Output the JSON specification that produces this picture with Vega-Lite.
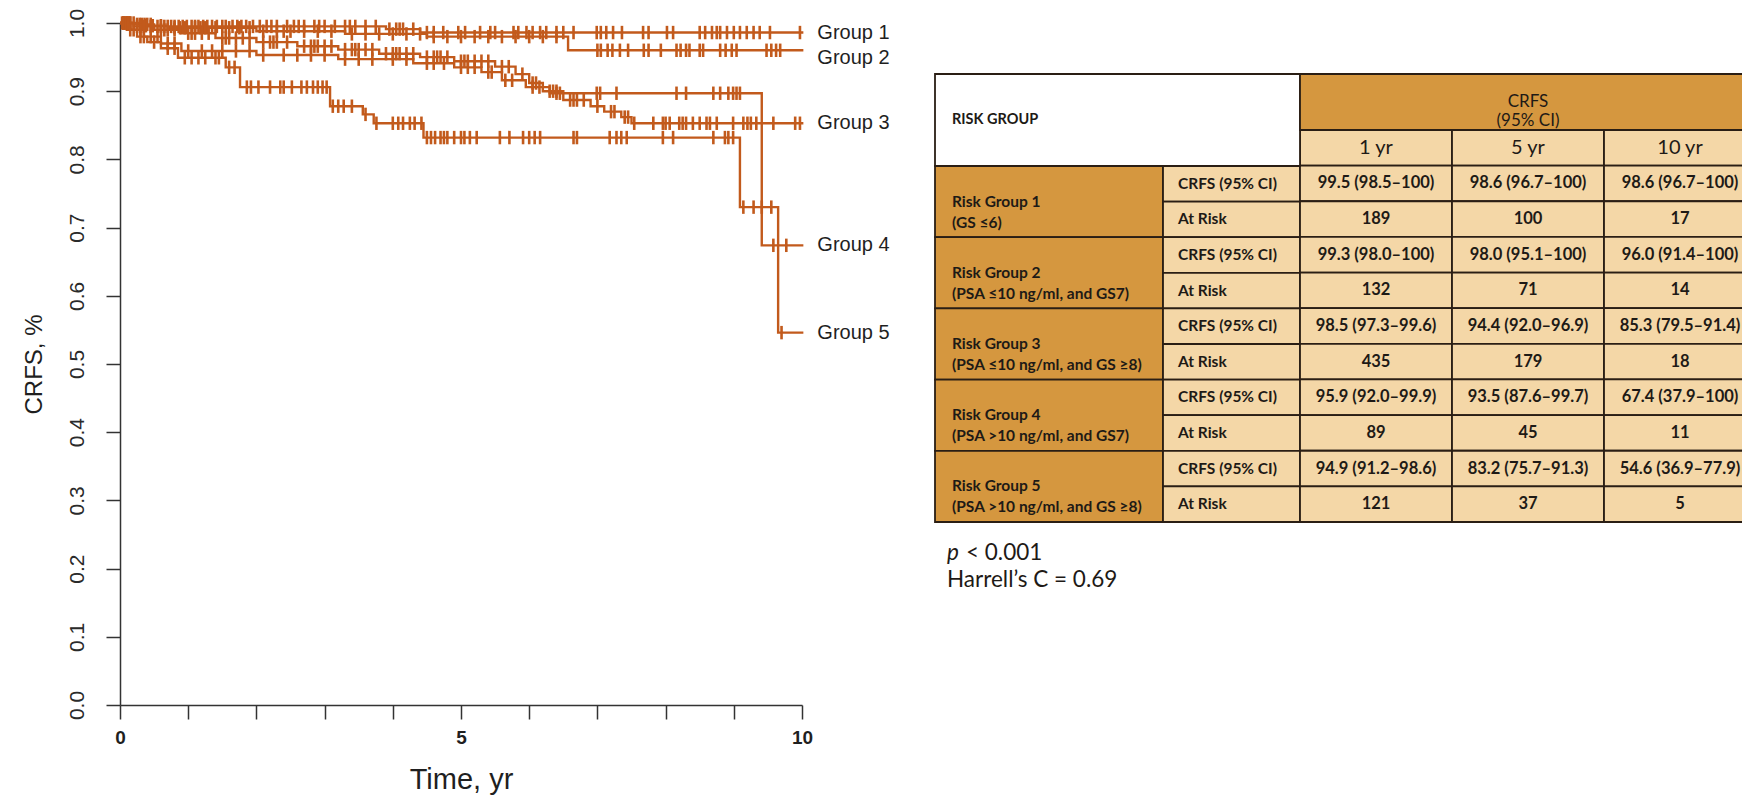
{
  "$schema": "https://vega.github.io/schema/vega-lite/v6.json",
  "width": 682,
  "height": 682,
  "autosize": {"type": "none"},
  "padding": {"left": 120, "top": 23, "right": 940, "bottom": 90},
  "background": "white",
  "config": {"view": {"stroke": null}},
  "datasets": {
    "km_steps": [
      {"g": "Group 1", "t": 0, "s": 1}, {"g": "Group 1", "t": 0.2, "s": 0.998}, {"g": "Group 1", "t": 0.5, "s": 0.995}, {"g": "Group 1", "t": 3.9, "s": 0.991}, {"g": "Group 1", "t": 4.4, "s": 0.986}, {"g": "Group 1", "t": 10.02, "s": 0.986},
      {"g": "Group 2", "t": 0, "s": 1}, {"g": "Group 2", "t": 0.3, "s": 0.996}, {"g": "Group 2", "t": 0.7, "s": 0.993}, {"g": "Group 2", "t": 2.0, "s": 0.988}, {"g": "Group 2", "t": 3.3, "s": 0.984}, {"g": "Group 2", "t": 4.5, "s": 0.98}, {"g": "Group 2", "t": 6.57, "s": 0.96}, {"g": "Group 2", "t": 10.02, "s": 0.96},
      {"g": "Group 3", "t": 0, "s": 1}, {"g": "Group 3", "t": 0.2, "s": 0.995}, {"g": "Group 3", "t": 0.5, "s": 0.99}, {"g": "Group 3", "t": 0.9, "s": 0.985}, {"g": "Group 3", "t": 1.4, "s": 0.978}, {"g": "Group 3", "t": 2.0, "s": 0.972}, {"g": "Group 3", "t": 2.6, "s": 0.966}, {"g": "Group 3", "t": 3.2, "s": 0.961}, {"g": "Group 3", "t": 3.8, "s": 0.955}, {"g": "Group 3", "t": 4.4, "s": 0.95}, {"g": "Group 3", "t": 4.9, "s": 0.944}, {"g": "Group 3", "t": 5.5, "s": 0.936}, {"g": "Group 3", "t": 5.8, "s": 0.925}, {"g": "Group 3", "t": 6.0, "s": 0.912}, {"g": "Group 3", "t": 6.2, "s": 0.9}, {"g": "Group 3", "t": 6.5, "s": 0.887}, {"g": "Group 3", "t": 6.9, "s": 0.878}, {"g": "Group 3", "t": 7.1, "s": 0.87}, {"g": "Group 3", "t": 7.35, "s": 0.862}, {"g": "Group 3", "t": 7.5, "s": 0.853}, {"g": "Group 3", "t": 10.02, "s": 0.853},
      {"g": "Group 4", "t": 0, "s": 1}, {"g": "Group 4", "t": 0.15, "s": 0.99}, {"g": "Group 4", "t": 0.35, "s": 0.98}, {"g": "Group 4", "t": 0.6, "s": 0.97}, {"g": "Group 4", "t": 0.9, "s": 0.959}, {"g": "Group 4", "t": 2.0, "s": 0.953}, {"g": "Group 4", "t": 3.2, "s": 0.947}, {"g": "Group 4", "t": 4.3, "s": 0.941}, {"g": "Group 4", "t": 4.9, "s": 0.935}, {"g": "Group 4", "t": 5.3, "s": 0.928}, {"g": "Group 4", "t": 5.6, "s": 0.916}, {"g": "Group 4", "t": 5.95, "s": 0.906}, {"g": "Group 4", "t": 6.3, "s": 0.897}, {"g": "Group 4", "t": 9.41, "s": 0.674}, {"g": "Group 4", "t": 10.02, "s": 0.674},
      {"g": "Group 5", "t": 0, "s": 1}, {"g": "Group 5", "t": 0.1, "s": 0.99}, {"g": "Group 5", "t": 0.25, "s": 0.98}, {"g": "Group 5", "t": 0.4, "s": 0.972}, {"g": "Group 5", "t": 0.6, "s": 0.963}, {"g": "Group 5", "t": 0.85, "s": 0.949}, {"g": "Group 5", "t": 1.55, "s": 0.935}, {"g": "Group 5", "t": 1.76, "s": 0.906}, {"g": "Group 5", "t": 3.08, "s": 0.878}, {"g": "Group 5", "t": 3.56, "s": 0.866}, {"g": "Group 5", "t": 3.72, "s": 0.853}, {"g": "Group 5", "t": 4.45, "s": 0.832}, {"g": "Group 5", "t": 9.09, "s": 0.73}, {"g": "Group 5", "t": 9.65, "s": 0.546}, {"g": "Group 5", "t": 10.02, "s": 0.546}
    ],
    "km_censor": [
      {"g": "Group 1", "t": 0.03, "s": 1}, {"g": "Group 1", "t": 0.05, "s": 1}, {"g": "Group 1", "t": 0.08, "s": 1}, {"g": "Group 1", "t": 0.1, "s": 1}, {"g": "Group 1", "t": 0.13, "s": 1}, {"g": "Group 1", "t": 0.15, "s": 1}, {"g": "Group 1", "t": 0.25, "s": 0.998}, {"g": "Group 1", "t": 0.29, "s": 0.998}, {"g": "Group 1", "t": 0.32, "s": 0.998}, {"g": "Group 1", "t": 0.36, "s": 0.998}, {"g": "Group 1", "t": 0.4, "s": 0.998}, {"g": "Group 1", "t": 0.45, "s": 0.998},
      {"g": "Group 1", "t": 0.55, "s": 0.995}, {"g": "Group 1", "t": 0.6, "s": 0.995}, {"g": "Group 1", "t": 0.65, "s": 0.995}, {"g": "Group 1", "t": 0.7, "s": 0.995}, {"g": "Group 1", "t": 0.75, "s": 0.995}, {"g": "Group 1", "t": 0.8, "s": 0.995}, {"g": "Group 1", "t": 0.86, "s": 0.995}, {"g": "Group 1", "t": 0.92, "s": 0.995}, {"g": "Group 1", "t": 0.98, "s": 0.995}, {"g": "Group 1", "t": 1.05, "s": 0.995}, {"g": "Group 1", "t": 1.1, "s": 0.995}, {"g": "Group 1", "t": 1.15, "s": 0.995}, {"g": "Group 1", "t": 1.22, "s": 0.995}, {"g": "Group 1", "t": 1.28, "s": 0.995}, {"g": "Group 1", "t": 1.35, "s": 0.995}, {"g": "Group 1", "t": 1.42, "s": 0.995}, {"g": "Group 1", "t": 1.5, "s": 0.995}, {"g": "Group 1", "t": 1.55, "s": 0.995}, {"g": "Group 1", "t": 1.65, "s": 0.995}, {"g": "Group 1", "t": 1.72, "s": 0.995}, {"g": "Group 1", "t": 1.78, "s": 0.995}, {"g": "Group 1", "t": 1.85, "s": 0.995}, {"g": "Group 1", "t": 1.95, "s": 0.995}, {"g": "Group 1", "t": 2.05, "s": 0.995}, {"g": "Group 1", "t": 2.15, "s": 0.995}, {"g": "Group 1", "t": 2.22, "s": 0.995}, {"g": "Group 1", "t": 2.3, "s": 0.995}, {"g": "Group 1", "t": 2.45, "s": 0.995}, {"g": "Group 1", "t": 2.55, "s": 0.995}, {"g": "Group 1", "t": 2.62, "s": 0.995}, {"g": "Group 1", "t": 2.7, "s": 0.995}, {"g": "Group 1", "t": 2.85, "s": 0.995}, {"g": "Group 1", "t": 2.92, "s": 0.995}, {"g": "Group 1", "t": 3.0, "s": 0.995}, {"g": "Group 1", "t": 3.15, "s": 0.995}, {"g": "Group 1", "t": 3.3, "s": 0.995}, {"g": "Group 1", "t": 3.37, "s": 0.995}, {"g": "Group 1", "t": 3.45, "s": 0.995}, {"g": "Group 1", "t": 3.6, "s": 0.995}, {"g": "Group 1", "t": 3.75, "s": 0.995},
      {"g": "Group 1", "t": 3.95, "s": 0.991}, {"g": "Group 1", "t": 4.05, "s": 0.991}, {"g": "Group 1", "t": 4.1, "s": 0.991}, {"g": "Group 1", "t": 4.15, "s": 0.991}, {"g": "Group 1", "t": 4.3, "s": 0.991},
      {"g": "Group 1", "t": 4.5, "s": 0.986}, {"g": "Group 1", "t": 4.6, "s": 0.986}, {"g": "Group 1", "t": 4.74, "s": 0.986}, {"g": "Group 1", "t": 4.96, "s": 0.986}, {"g": "Group 1", "t": 5.06, "s": 0.986}, {"g": "Group 1", "t": 5.28, "s": 0.986}, {"g": "Group 1", "t": 5.43, "s": 0.986}, {"g": "Group 1", "t": 5.5, "s": 0.986}, {"g": "Group 1", "t": 5.77, "s": 0.986}, {"g": "Group 1", "t": 5.84, "s": 0.986}, {"g": "Group 1", "t": 5.96, "s": 0.986}, {"g": "Group 1", "t": 6.05, "s": 0.986}, {"g": "Group 1", "t": 6.16, "s": 0.986}, {"g": "Group 1", "t": 6.25, "s": 0.986}, {"g": "Group 1", "t": 6.4, "s": 0.986}, {"g": "Group 1", "t": 6.5, "s": 0.986}, {"g": "Group 1", "t": 6.65, "s": 0.986}, {"g": "Group 1", "t": 6.99, "s": 0.986}, {"g": "Group 1", "t": 7.05, "s": 0.986}, {"g": "Group 1", "t": 7.13, "s": 0.986}, {"g": "Group 1", "t": 7.23, "s": 0.986}, {"g": "Group 1", "t": 7.36, "s": 0.986}, {"g": "Group 1", "t": 7.67, "s": 0.986}, {"g": "Group 1", "t": 7.75, "s": 0.986}, {"g": "Group 1", "t": 8.02, "s": 0.986}, {"g": "Group 1", "t": 8.11, "s": 0.986}, {"g": "Group 1", "t": 8.5, "s": 0.986}, {"g": "Group 1", "t": 8.58, "s": 0.986}, {"g": "Group 1", "t": 8.68, "s": 0.986}, {"g": "Group 1", "t": 8.75, "s": 0.986}, {"g": "Group 1", "t": 8.8, "s": 0.986}, {"g": "Group 1", "t": 8.9, "s": 0.986}, {"g": "Group 1", "t": 9.0, "s": 0.986}, {"g": "Group 1", "t": 9.09, "s": 0.986}, {"g": "Group 1", "t": 9.19, "s": 0.986}, {"g": "Group 1", "t": 9.29, "s": 0.986}, {"g": "Group 1", "t": 9.38, "s": 0.986}, {"g": "Group 1", "t": 9.53, "s": 0.986}, {"g": "Group 1", "t": 9.97, "s": 0.986},

      {"g": "Group 2", "t": 0.1, "s": 1}, {"g": "Group 2", "t": 0.2, "s": 1}, {"g": "Group 2", "t": 0.38, "s": 0.996}, {"g": "Group 2", "t": 0.48, "s": 0.996}, {"g": "Group 2", "t": 0.6, "s": 0.996}, {"g": "Group 2", "t": 0.8, "s": 0.993}, {"g": "Group 2", "t": 0.88, "s": 0.993}, {"g": "Group 2", "t": 0.95, "s": 0.993}, {"g": "Group 2", "t": 1.1, "s": 0.993}, {"g": "Group 2", "t": 1.18, "s": 0.993}, {"g": "Group 2", "t": 1.25, "s": 0.993}, {"g": "Group 2", "t": 1.4, "s": 0.993}, {"g": "Group 2", "t": 1.6, "s": 0.993}, {"g": "Group 2", "t": 1.75, "s": 0.993}, {"g": "Group 2", "t": 1.9, "s": 0.993},
      {"g": "Group 2", "t": 2.1, "s": 0.988}, {"g": "Group 2", "t": 2.3, "s": 0.988}, {"g": "Group 2", "t": 2.4, "s": 0.988}, {"g": "Group 2", "t": 2.5, "s": 0.988}, {"g": "Group 2", "t": 2.7, "s": 0.988}, {"g": "Group 2", "t": 2.9, "s": 0.988}, {"g": "Group 2", "t": 3.1, "s": 0.988}, {"g": "Group 2", "t": 3.4, "s": 0.984}, {"g": "Group 2", "t": 3.6, "s": 0.984}, {"g": "Group 2", "t": 3.8, "s": 0.984}, {"g": "Group 2", "t": 4.0, "s": 0.984}, {"g": "Group 2", "t": 4.2, "s": 0.984}, {"g": "Group 2", "t": 4.4, "s": 0.984},
      {"g": "Group 2", "t": 4.6, "s": 0.98}, {"g": "Group 2", "t": 4.8, "s": 0.98}, {"g": "Group 2", "t": 5.0, "s": 0.98}, {"g": "Group 2", "t": 5.2, "s": 0.98}, {"g": "Group 2", "t": 5.4, "s": 0.98}, {"g": "Group 2", "t": 5.6, "s": 0.98}, {"g": "Group 2", "t": 5.8, "s": 0.98}, {"g": "Group 2", "t": 6.0, "s": 0.98}, {"g": "Group 2", "t": 6.2, "s": 0.98}, {"g": "Group 2", "t": 6.4, "s": 0.98},
      {"g": "Group 2", "t": 7.0, "s": 0.96}, {"g": "Group 2", "t": 7.05, "s": 0.96}, {"g": "Group 2", "t": 7.15, "s": 0.96}, {"g": "Group 2", "t": 7.22, "s": 0.96}, {"g": "Group 2", "t": 7.33, "s": 0.96}, {"g": "Group 2", "t": 7.45, "s": 0.96}, {"g": "Group 2", "t": 7.68, "s": 0.96}, {"g": "Group 2", "t": 7.75, "s": 0.96}, {"g": "Group 2", "t": 7.93, "s": 0.96}, {"g": "Group 2", "t": 8.16, "s": 0.96}, {"g": "Group 2", "t": 8.22, "s": 0.96}, {"g": "Group 2", "t": 8.3, "s": 0.96}, {"g": "Group 2", "t": 8.35, "s": 0.96}, {"g": "Group 2", "t": 8.5, "s": 0.96}, {"g": "Group 2", "t": 8.55, "s": 0.96}, {"g": "Group 2", "t": 8.8, "s": 0.96}, {"g": "Group 2", "t": 8.88, "s": 0.96}, {"g": "Group 2", "t": 8.97, "s": 0.96}, {"g": "Group 2", "t": 9.04, "s": 0.96}, {"g": "Group 2", "t": 9.48, "s": 0.96}, {"g": "Group 2", "t": 9.55, "s": 0.96}, {"g": "Group 2", "t": 9.62, "s": 0.96}, {"g": "Group 2", "t": 9.68, "s": 0.96},

      {"g": "Group 3", "t": 0.05, "s": 1}, {"g": "Group 3", "t": 0.08, "s": 1}, {"g": "Group 3", "t": 0.12, "s": 1}, {"g": "Group 3", "t": 0.15, "s": 1}, {"g": "Group 3", "t": 0.25, "s": 0.995}, {"g": "Group 3", "t": 0.3, "s": 0.995}, {"g": "Group 3", "t": 0.35, "s": 0.995}, {"g": "Group 3", "t": 0.45, "s": 0.995}, {"g": "Group 3", "t": 0.6, "s": 0.99}, {"g": "Group 3", "t": 0.65, "s": 0.99}, {"g": "Group 3", "t": 0.7, "s": 0.99}, {"g": "Group 3", "t": 0.8, "s": 0.99}, {"g": "Group 3", "t": 1.0, "s": 0.985}, {"g": "Group 3", "t": 1.05, "s": 0.985}, {"g": "Group 3", "t": 1.1, "s": 0.985}, {"g": "Group 3", "t": 1.2, "s": 0.985}, {"g": "Group 3", "t": 1.3, "s": 0.985}, {"g": "Group 3", "t": 1.5, "s": 0.978}, {"g": "Group 3", "t": 1.55, "s": 0.978}, {"g": "Group 3", "t": 1.6, "s": 0.978}, {"g": "Group 3", "t": 1.7, "s": 0.978}, {"g": "Group 3", "t": 1.8, "s": 0.978}, {"g": "Group 3", "t": 1.9, "s": 0.978},
      {"g": "Group 3", "t": 2.1, "s": 0.972}, {"g": "Group 3", "t": 2.2, "s": 0.972}, {"g": "Group 3", "t": 2.25, "s": 0.972}, {"g": "Group 3", "t": 2.3, "s": 0.972}, {"g": "Group 3", "t": 2.45, "s": 0.972}, {"g": "Group 3", "t": 2.7, "s": 0.966}, {"g": "Group 3", "t": 2.8, "s": 0.966}, {"g": "Group 3", "t": 2.85, "s": 0.966}, {"g": "Group 3", "t": 2.9, "s": 0.966}, {"g": "Group 3", "t": 3.0, "s": 0.966}, {"g": "Group 3", "t": 3.1, "s": 0.966}, {"g": "Group 3", "t": 3.3, "s": 0.961}, {"g": "Group 3", "t": 3.4, "s": 0.961}, {"g": "Group 3", "t": 3.45, "s": 0.961}, {"g": "Group 3", "t": 3.5, "s": 0.961}, {"g": "Group 3", "t": 3.6, "s": 0.961}, {"g": "Group 3", "t": 3.7, "s": 0.961},
      {"g": "Group 3", "t": 3.9, "s": 0.955}, {"g": "Group 3", "t": 4.0, "s": 0.955}, {"g": "Group 3", "t": 4.05, "s": 0.955}, {"g": "Group 3", "t": 4.1, "s": 0.955}, {"g": "Group 3", "t": 4.2, "s": 0.955}, {"g": "Group 3", "t": 4.3, "s": 0.955}, {"g": "Group 3", "t": 4.5, "s": 0.95}, {"g": "Group 3", "t": 4.6, "s": 0.95}, {"g": "Group 3", "t": 4.65, "s": 0.95}, {"g": "Group 3", "t": 4.7, "s": 0.95}, {"g": "Group 3", "t": 4.8, "s": 0.95}, {"g": "Group 3", "t": 5.0, "s": 0.944}, {"g": "Group 3", "t": 5.05, "s": 0.944}, {"g": "Group 3", "t": 5.1, "s": 0.944}, {"g": "Group 3", "t": 5.2, "s": 0.944}, {"g": "Group 3", "t": 5.3, "s": 0.944}, {"g": "Group 3", "t": 5.4, "s": 0.944}, {"g": "Group 3", "t": 5.6, "s": 0.936}, {"g": "Group 3", "t": 5.7, "s": 0.936}, {"g": "Group 3", "t": 5.9, "s": 0.925},
      {"g": "Group 3", "t": 6.05, "s": 0.912}, {"g": "Group 3", "t": 6.1, "s": 0.912}, {"g": "Group 3", "t": 6.3, "s": 0.9}, {"g": "Group 3", "t": 6.35, "s": 0.9}, {"g": "Group 3", "t": 6.4, "s": 0.9}, {"g": "Group 3", "t": 6.6, "s": 0.887}, {"g": "Group 3", "t": 6.65, "s": 0.887}, {"g": "Group 3", "t": 6.7, "s": 0.887}, {"g": "Group 3", "t": 6.8, "s": 0.887}, {"g": "Group 3", "t": 7.0, "s": 0.878}, {"g": "Group 3", "t": 7.2, "s": 0.87}, {"g": "Group 3", "t": 7.25, "s": 0.87}, {"g": "Group 3", "t": 7.4, "s": 0.862}, {"g": "Group 3", "t": 7.45, "s": 0.862},
      {"g": "Group 3", "t": 7.54, "s": 0.853}, {"g": "Group 3", "t": 7.82, "s": 0.853}, {"g": "Group 3", "t": 7.96, "s": 0.853}, {"g": "Group 3", "t": 8.0, "s": 0.853}, {"g": "Group 3", "t": 8.06, "s": 0.853}, {"g": "Group 3", "t": 8.2, "s": 0.853}, {"g": "Group 3", "t": 8.25, "s": 0.853}, {"g": "Group 3", "t": 8.3, "s": 0.853}, {"g": "Group 3", "t": 8.4, "s": 0.853}, {"g": "Group 3", "t": 8.5, "s": 0.853}, {"g": "Group 3", "t": 8.6, "s": 0.853}, {"g": "Group 3", "t": 8.65, "s": 0.853}, {"g": "Group 3", "t": 8.75, "s": 0.853}, {"g": "Group 3", "t": 8.99, "s": 0.853}, {"g": "Group 3", "t": 9.14, "s": 0.853}, {"g": "Group 3", "t": 9.2, "s": 0.853}, {"g": "Group 3", "t": 9.25, "s": 0.853}, {"g": "Group 3", "t": 9.33, "s": 0.853}, {"g": "Group 3", "t": 9.58, "s": 0.853}, {"g": "Group 3", "t": 9.9, "s": 0.853}, {"g": "Group 3", "t": 9.97, "s": 0.853},

      {"g": "Group 4", "t": 0.05, "s": 1}, {"g": "Group 4", "t": 0.12, "s": 1}, {"g": "Group 4", "t": 0.2, "s": 0.99}, {"g": "Group 4", "t": 0.3, "s": 0.99}, {"g": "Group 4", "t": 0.45, "s": 0.98}, {"g": "Group 4", "t": 0.55, "s": 0.98}, {"g": "Group 4", "t": 0.7, "s": 0.97}, {"g": "Group 4", "t": 0.8, "s": 0.97}, {"g": "Group 4", "t": 1.0, "s": 0.959}, {"g": "Group 4", "t": 1.2, "s": 0.959}, {"g": "Group 4", "t": 1.35, "s": 0.959}, {"g": "Group 4", "t": 1.5, "s": 0.959}, {"g": "Group 4", "t": 1.7, "s": 0.959}, {"g": "Group 4", "t": 1.9, "s": 0.959},
      {"g": "Group 4", "t": 2.1, "s": 0.953}, {"g": "Group 4", "t": 2.4, "s": 0.953}, {"g": "Group 4", "t": 2.6, "s": 0.953}, {"g": "Group 4", "t": 2.8, "s": 0.953}, {"g": "Group 4", "t": 3.0, "s": 0.953}, {"g": "Group 4", "t": 3.3, "s": 0.947}, {"g": "Group 4", "t": 3.5, "s": 0.947}, {"g": "Group 4", "t": 3.7, "s": 0.947}, {"g": "Group 4", "t": 4.0, "s": 0.947}, {"g": "Group 4", "t": 4.2, "s": 0.947}, {"g": "Group 4", "t": 4.5, "s": 0.941}, {"g": "Group 4", "t": 4.6, "s": 0.941}, {"g": "Group 4", "t": 4.75, "s": 0.941},
      {"g": "Group 4", "t": 5.0, "s": 0.935}, {"g": "Group 4", "t": 5.1, "s": 0.935}, {"g": "Group 4", "t": 5.2, "s": 0.935}, {"g": "Group 4", "t": 5.4, "s": 0.928}, {"g": "Group 4", "t": 5.45, "s": 0.928}, {"g": "Group 4", "t": 5.65, "s": 0.916}, {"g": "Group 4", "t": 5.75, "s": 0.916}, {"g": "Group 4", "t": 6.05, "s": 0.906}, {"g": "Group 4", "t": 6.15, "s": 0.906}, {"g": "Group 4", "t": 6.4, "s": 0.897}, {"g": "Group 4", "t": 6.45, "s": 0.897}, {"g": "Group 4", "t": 6.99, "s": 0.897}, {"g": "Group 4", "t": 7.04, "s": 0.897}, {"g": "Group 4", "t": 7.28, "s": 0.897}, {"g": "Group 4", "t": 8.16, "s": 0.897}, {"g": "Group 4", "t": 8.3, "s": 0.897}, {"g": "Group 4", "t": 8.7, "s": 0.897}, {"g": "Group 4", "t": 8.8, "s": 0.897}, {"g": "Group 4", "t": 8.92, "s": 0.897}, {"g": "Group 4", "t": 8.99, "s": 0.897}, {"g": "Group 4", "t": 9.04, "s": 0.897}, {"g": "Group 4", "t": 9.09, "s": 0.897}, {"g": "Group 4", "t": 9.58, "s": 0.674}, {"g": "Group 4", "t": 9.77, "s": 0.674},

      {"g": "Group 5", "t": 0.05, "s": 1}, {"g": "Group 5", "t": 0.15, "s": 0.99}, {"g": "Group 5", "t": 0.3, "s": 0.98}, {"g": "Group 5", "t": 0.35, "s": 0.98}, {"g": "Group 5", "t": 0.5, "s": 0.972}, {"g": "Group 5", "t": 0.7, "s": 0.963}, {"g": "Group 5", "t": 0.8, "s": 0.963}, {"g": "Group 5", "t": 0.95, "s": 0.949}, {"g": "Group 5", "t": 1.05, "s": 0.949}, {"g": "Group 5", "t": 1.15, "s": 0.949}, {"g": "Group 5", "t": 1.25, "s": 0.949}, {"g": "Group 5", "t": 1.4, "s": 0.949}, {"g": "Group 5", "t": 1.45, "s": 0.949}, {"g": "Group 5", "t": 1.6, "s": 0.935}, {"g": "Group 5", "t": 1.68, "s": 0.935},
      {"g": "Group 5", "t": 1.86, "s": 0.906}, {"g": "Group 5", "t": 1.92, "s": 0.906}, {"g": "Group 5", "t": 2.03, "s": 0.906}, {"g": "Group 5", "t": 2.2, "s": 0.906}, {"g": "Group 5", "t": 2.35, "s": 0.906}, {"g": "Group 5", "t": 2.4, "s": 0.906}, {"g": "Group 5", "t": 2.52, "s": 0.906}, {"g": "Group 5", "t": 2.66, "s": 0.906}, {"g": "Group 5", "t": 2.74, "s": 0.906}, {"g": "Group 5", "t": 2.83, "s": 0.906}, {"g": "Group 5", "t": 2.9, "s": 0.906}, {"g": "Group 5", "t": 2.97, "s": 0.906}, {"g": "Group 5", "t": 3.03, "s": 0.906},
      {"g": "Group 5", "t": 3.12, "s": 0.878}, {"g": "Group 5", "t": 3.2, "s": 0.878}, {"g": "Group 5", "t": 3.28, "s": 0.878}, {"g": "Group 5", "t": 3.4, "s": 0.878}, {"g": "Group 5", "t": 3.6, "s": 0.866}, {"g": "Group 5", "t": 3.76, "s": 0.853}, {"g": "Group 5", "t": 4.0, "s": 0.853}, {"g": "Group 5", "t": 4.08, "s": 0.853}, {"g": "Group 5", "t": 4.15, "s": 0.853}, {"g": "Group 5", "t": 4.25, "s": 0.853}, {"g": "Group 5", "t": 4.32, "s": 0.853}, {"g": "Group 5", "t": 4.42, "s": 0.853},
      {"g": "Group 5", "t": 4.5, "s": 0.832}, {"g": "Group 5", "t": 4.56, "s": 0.832}, {"g": "Group 5", "t": 4.62, "s": 0.832}, {"g": "Group 5", "t": 4.7, "s": 0.832}, {"g": "Group 5", "t": 4.75, "s": 0.832}, {"g": "Group 5", "t": 4.8, "s": 0.832}, {"g": "Group 5", "t": 4.9, "s": 0.832}, {"g": "Group 5", "t": 5.0, "s": 0.832}, {"g": "Group 5", "t": 5.05, "s": 0.832}, {"g": "Group 5", "t": 5.13, "s": 0.832}, {"g": "Group 5", "t": 5.23, "s": 0.832}, {"g": "Group 5", "t": 5.57, "s": 0.832}, {"g": "Group 5", "t": 5.71, "s": 0.832}, {"g": "Group 5", "t": 5.91, "s": 0.832}, {"g": "Group 5", "t": 6.0, "s": 0.832}, {"g": "Group 5", "t": 6.08, "s": 0.832}, {"g": "Group 5", "t": 6.16, "s": 0.832}, {"g": "Group 5", "t": 6.65, "s": 0.832}, {"g": "Group 5", "t": 6.7, "s": 0.832}, {"g": "Group 5", "t": 7.18, "s": 0.832}, {"g": "Group 5", "t": 7.28, "s": 0.832}, {"g": "Group 5", "t": 7.35, "s": 0.832}, {"g": "Group 5", "t": 7.43, "s": 0.832}, {"g": "Group 5", "t": 7.96, "s": 0.832}, {"g": "Group 5", "t": 8.11, "s": 0.832}, {"g": "Group 5", "t": 8.7, "s": 0.832}, {"g": "Group 5", "t": 8.87, "s": 0.832}, {"g": "Group 5", "t": 8.92, "s": 0.832}, {"g": "Group 5", "t": 8.99, "s": 0.832},
      {"g": "Group 5", "t": 9.14, "s": 0.73}, {"g": "Group 5", "t": 9.29, "s": 0.73}, {"g": "Group 5", "t": 9.41, "s": 0.73}, {"g": "Group 5", "t": 9.55, "s": 0.73}, {"g": "Group 5", "t": 9.7, "s": 0.546}
    ],
    "groups": [
      {"grp": "1", "name": "Risk Group 1\n(GS ≤6)"},
      {"grp": "2", "name": "Risk Group 2\n(PSA ≤10 ng/ml, and GS7)"},
      {"grp": "3", "name": "Risk Group 3\n(PSA ≤10 ng/ml, and GS ≥8)"},
      {"grp": "4", "name": "Risk Group 4\n(PSA >10 ng/ml, and GS7)"},
      {"grp": "5", "name": "Risk Group 5\n(PSA >10 ng/ml, and GS ≥8)"}
    ],
    "tbl": [
      {"sub": "1a", "stat": "CRFS (95% CI)", "1 yr": "99.5 (98.5–100)", "5 yr": "98.6 (96.7–100)", "10 yr": "98.6 (96.7–100)"},
      {"sub": "1b", "stat": "At Risk", "1 yr": "189", "5 yr": "100", "10 yr": "17"},
      {"sub": "2a", "stat": "CRFS (95% CI)", "1 yr": "99.3 (98.0–100)", "5 yr": "98.0 (95.1–100)", "10 yr": "96.0 (91.4–100)"},
      {"sub": "2b", "stat": "At Risk", "1 yr": "132", "5 yr": "71", "10 yr": "14"},
      {"sub": "3a", "stat": "CRFS (95% CI)", "1 yr": "98.5 (97.3–99.6)", "5 yr": "94.4 (92.0–96.9)", "10 yr": "85.3 (79.5–91.4)"},
      {"sub": "3b", "stat": "At Risk", "1 yr": "435", "5 yr": "179", "10 yr": "18"},
      {"sub": "4a", "stat": "CRFS (95% CI)", "1 yr": "95.9 (92.0–99.9)", "5 yr": "93.5 (87.6–99.7)", "10 yr": "67.4 (37.9–100)"},
      {"sub": "4b", "stat": "At Risk", "1 yr": "89", "5 yr": "45", "10 yr": "11"},
      {"sub": "5a", "stat": "CRFS (95% CI)", "1 yr": "94.9 (91.2–98.6)", "5 yr": "83.2 (75.7–91.3)", "10 yr": "54.6 (36.9–77.9)"},
      {"sub": "5b", "stat": "At Risk", "1 yr": "121", "5 yr": "37", "10 yr": "5"}
    ]
  },
  "layer": [
    {
      "encoding": {
        "x": {
          "field": "t", "type": "quantitative",
          "scale": {"domain": [0, 10]},
          "axis": {
            "title": "Time, yr",
            "values": [0, 1, 2, 3, 4, 5, 6, 7, 8, 9, 10],
            "labelExpr": "datum.value % 5 === 0 ? datum.label : ''",
            "grid": false,
            "tickSize": 14, "tickWidth": 1.5, "tickColor": "#333333",
            "domainColor": "#333333", "domainWidth": 1.5,
            "labelFont": "Liberation Sans", "labelFontWeight": "bold", "labelFontSize": 19, "labelColor": "#1f1f1f",
            "labelPadding": 9, "labelFlush": false, "labelOverlap": false,
            "titleFont": "Liberation Sans", "titleFontSize": 29, "titleFontWeight": "normal", "titleColor": "#1f1f1f",
            "titlePadding": 18
          }
        },
        "y": {
          "field": "s", "type": "quantitative",
          "scale": {"domain": [0, 1]},
          "axis": {
            "title": "CRFS, %",
            "values": [0, 0.1, 0.2, 0.3, 0.4, 0.5, 0.6, 0.7, 0.8, 0.9, 1],
            "format": ".1f",
            "grid": false,
            "tickSize": 14, "tickWidth": 1.5, "tickColor": "#333333",
            "domainColor": "#333333", "domainWidth": 1.5,
            "labelAngle": -90, "labelAlign": "center", "labelBaseline": "alphabetic",
            "labelFont": "Liberation Sans", "labelFontSize": 21, "labelColor": "#2a2a2a",
            "labelPadding": 23, "labelFlush": false, "labelOverlap": false,
            "titleFont": "Liberation Sans", "titleFontSize": 24, "titleFontWeight": "normal", "titleColor": "#1f1f1f",
            "titlePadding": 20
          }
        }
      },
      "layer": [
        {
          "data": {"name": "km_steps"},
          "mark": {"type": "line", "interpolate": "step-after", "color": "#C25A1C", "strokeWidth": 2.4},
          "encoding": {"detail": {"field": "g"}}
        },
        {
          "data": {"name": "km_censor"},
          "mark": {"type": "point", "shape": "M0,-1V1", "size": 180, "filled": false, "stroke": "#C25A1C", "strokeWidth": 2.6, "opacity": 1},
          "encoding": {"detail": {"field": "g"}}
        },
        {
          "data": {"name": "km_steps"},
          "transform": [{"filter": "datum.t >= 10 && datum.g !== 'Group 2'"}],
          "mark": {"type": "text", "align": "left", "baseline": "middle", "dx": 14, "font": "Liberation Sans", "fontSize": 20, "color": "#1f1f1f"},
          "encoding": {"text": {"field": "g"}}
        },
        {
          "data": {"name": "km_steps"},
          "transform": [{"filter": "datum.t >= 10 && datum.g === 'Group 2'"}],
          "mark": {"type": "text", "align": "left", "baseline": "middle", "dx": 14, "dy": 8, "font": "Liberation Sans", "fontSize": 20, "color": "#1f1f1f"},
          "encoding": {"text": {"field": "g"}}
        }
      ]
    },
    {
      "data": {"name": "groups"},
      "encoding": {
        "x": {"datum": "name", "type": "nominal", "scale": {"type": "band", "domain": ["name"], "range": [815, 1043], "paddingInner": 0, "paddingOuter": 0}, "axis": null},
        "y": {"field": "grp", "type": "nominal", "scale": {"type": "band", "domain": ["1", "2", "3", "4", "5"], "range": [143, 499], "paddingInner": 0, "paddingOuter": 0}, "axis": null}
      },
      "layer": [
        {"mark": {"type": "rect", "fill": "#D5973F", "stroke": "#2a1e14", "strokeWidth": 1.8}},
        {
          "mark": {"type": "text", "align": "left", "baseline": "middle", "dx": 17, "lineBreak": "\n", "lineHeight": 21, "font": "Lato", "fontWeight": "bold", "fontSize": 15.5, "color": "#1e1a16"},
          "encoding": {
            "x": {"datum": "name", "type": "nominal", "bandPosition": 0},
            "text": {"field": "name"}
          }
        }
      ]
    },
    {
      "data": {"name": "tbl"},
      "encoding": {
        "x": {"datum": "stat", "type": "nominal", "scale": {"type": "band", "domain": ["stat"], "range": [1043, 1180], "paddingInner": 0, "paddingOuter": 0}, "axis": null},
        "y": {"field": "sub", "type": "nominal", "scale": {"type": "band", "domain": ["1a", "1b", "2a", "2b", "3a", "3b", "4a", "4b", "5a", "5b"], "range": [143, 499], "paddingInner": 0, "paddingOuter": 0}, "axis": null}
      },
      "layer": [
        {"mark": {"type": "rect", "fill": "#F4D7A7", "stroke": "#2a1e14", "strokeWidth": 1.8}},
        {
          "mark": {"type": "text", "align": "left", "baseline": "middle", "dx": 15, "font": "Lato", "fontWeight": "bold", "fontSize": 15.5, "color": "#1e1a16"},
          "encoding": {
            "x": {"datum": "stat", "type": "nominal", "bandPosition": 0},
            "text": {"field": "stat"}
          }
        }
      ]
    },
    {
      "encoding": {
        "x": {"field": "col", "type": "nominal", "scale": {"type": "band", "domain": ["1 yr", "5 yr", "10 yr"], "range": [1180, 1636], "paddingInner": 0, "paddingOuter": 0}, "axis": null},
        "y": {"field": "sub", "type": "nominal", "scale": {"type": "band", "domain": ["hdr", "1a", "1b", "2a", "2b", "3a", "3b", "4a", "4b", "5a", "5b"], "range": [107, 499], "paddingInner": 0, "paddingOuter": 0}, "axis": null}
      },
      "layer": [
        {
          "data": {"values": [{"col": "1 yr"}, {"col": "5 yr"}, {"col": "10 yr"}]},
          "mark": {"type": "rect", "fill": "#F4D7A7", "stroke": "#2a1e14", "strokeWidth": 1.8},
          "encoding": {"y": {"datum": "hdr", "type": "nominal"}}
        },
        {
          "data": {"values": [{"col": "1 yr"}, {"col": "5 yr"}, {"col": "10 yr"}]},
          "mark": {"type": "text", "align": "center", "baseline": "middle", "font": "Lato", "fontSize": 20, "color": "#1e1a16"},
          "encoding": {"y": {"datum": "hdr", "type": "nominal"}, "text": {"field": "col"}}
        },
        {
          "data": {"name": "tbl"},
          "transform": [{"fold": ["1 yr", "5 yr", "10 yr"], "as": ["col", "val"]}],
          "mark": {"type": "rect", "fill": "#F4D7A7", "stroke": "#2a1e14", "strokeWidth": 1.8}
        },
        {
          "data": {"name": "tbl"},
          "transform": [{"fold": ["1 yr", "5 yr", "10 yr"], "as": ["col", "val"]}],
          "mark": {"type": "text", "align": "center", "baseline": "middle", "font": "Lato", "fontWeight": "bold", "fontSize": 16.5, "color": "#1e1a16"},
          "encoding": {"text": {"field": "val"}}
        }
      ]
    },
    {
      "data": {"values": [{"h": "RISK GROUP"}]},
      "encoding": {
        "x": {"field": "h", "type": "nominal", "scale": {"type": "band", "domain": ["RISK GROUP"], "range": [815, 1180], "paddingInner": 0, "paddingOuter": 0}, "axis": null},
        "y": {"field": "h", "type": "nominal", "scale": {"type": "band", "domain": ["RISK GROUP"], "range": [51, 143], "paddingInner": 0, "paddingOuter": 0}, "axis": null}
      },
      "layer": [
        {"mark": {"type": "rect", "fill": "#ffffff", "stroke": "#2a1e14", "strokeWidth": 1.8}},
        {
          "mark": {"type": "text", "align": "left", "baseline": "middle", "dx": 17, "font": "Lato", "fontWeight": "bold", "fontSize": 14.5, "color": "#1e1a16"},
          "encoding": {"x": {"field": "h", "type": "nominal", "bandPosition": 0}, "text": {"field": "h"}}
        }
      ]
    },
    {
      "data": {"values": [{"h": "CRFS\n(95% CI)"}]},
      "encoding": {
        "x": {"field": "h", "type": "nominal", "scale": {"type": "band", "range": [1180, 1636], "paddingInner": 0, "paddingOuter": 0}, "axis": null},
        "y": {"field": "h", "type": "nominal", "scale": {"type": "band", "range": [51, 107], "paddingInner": 0, "paddingOuter": 0}, "axis": null}
      },
      "layer": [
        {"mark": {"type": "rect", "fill": "#D5973F", "stroke": "#2a1e14", "strokeWidth": 1.8}},
        {
          "mark": {"type": "text", "align": "center", "baseline": "middle", "lineBreak": "\n", "lineHeight": 19, "font": "Lato", "fontSize": 17, "color": "#1e1a16"},
          "encoding": {"text": {"field": "h"}}
        }
      ]
    },
    {
      "encoding": {
        "x": {"datum": "note", "type": "nominal", "scale": {"type": "band", "domain": ["note"], "range": [827, 1100], "paddingInner": 0, "paddingOuter": 0}, "axis": null},
        "y": {"field": "k", "type": "nominal", "scale": {"type": "band", "domain": ["p", "c"], "range": [516, 571], "paddingInner": 0, "paddingOuter": 0}, "axis": null}
      },
      "layer": [
        {
          "data": {"values": [{"k": "p", "txt": "p"}]},
          "mark": {"type": "text", "align": "left", "baseline": "middle", "font": "Lato", "fontStyle": "italic", "fontSize": 22.5, "color": "#1e1a16"},
          "encoding": {"x": {"datum": "note", "type": "nominal", "bandPosition": 0}, "text": {"field": "txt"}}
        },
        {
          "data": {"values": [{"k": "p", "txt": "< 0.001"}]},
          "mark": {"type": "text", "align": "left", "baseline": "middle", "dx": 19, "font": "Lato", "fontSize": 22.5, "color": "#1e1a16"},
          "encoding": {"x": {"datum": "note", "type": "nominal", "bandPosition": 0}, "text": {"field": "txt"}}
        },
        {
          "data": {"values": [{"k": "c", "txt": "Harrell’s C = 0.69"}]},
          "mark": {"type": "text", "align": "left", "baseline": "middle", "font": "Lato", "fontSize": 22.5, "color": "#1e1a16"},
          "encoding": {"x": {"datum": "note", "type": "nominal", "bandPosition": 0}, "text": {"field": "txt"}}
        }
      ]
    }
  ],
  "resolve": {"scale": {"x": "independent", "y": "independent"}}
}
